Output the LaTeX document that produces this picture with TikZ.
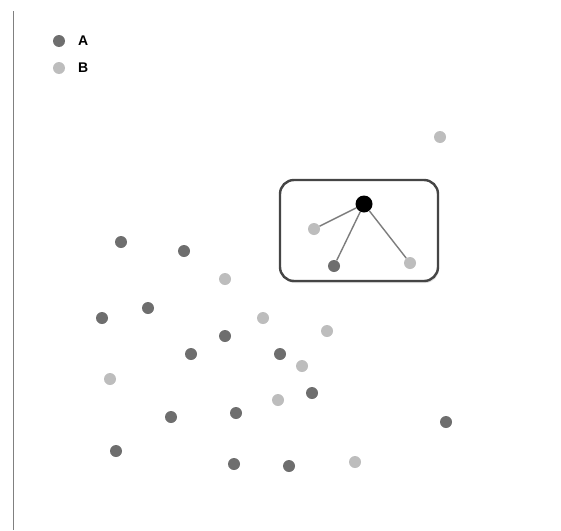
\documentclass[tikz,border=0pt]{standalone}
\usepackage{fontspec}
\setsansfont{Liberation Sans}
\usepackage{tikz}
\usetikzlibrary{shadows}
\definecolor{ptA}{HTML}{6E6E6E}
\definecolor{ptB}{HTML}{BDBDBD}
\definecolor{frameC}{HTML}{454545}

\begin{document}
\begin{tikzpicture}[
  x=1pt, y=-1pt,
  ptA/.style={circle, fill=ptA, inner sep=0pt, minimum size=12pt},
  ptB/.style={circle, fill=ptB, inner sep=0pt, minimum size=12pt},
  query/.style={circle, fill=black, inner sep=0pt, minimum size=17pt},
  legend/.style={font=\sffamily\bfseries\fontsize{14}{16}\selectfont, anchor=west, inner sep=0pt},
  link/.style={draw=ptA!90, line width=1.4pt}
]
  \useasboundingbox (0,0) rectangle (561,530);

  % Axis
  \coordinate (axtop) at (13.5,11);
  \coordinate (axbot) at (13.5,530);
  \draw[line width=1.8pt, gray] (axtop) -- (axbot);

  % Legend
  \node[ptA] (legA) at (59,41) {};
  \node[legend] (legAt) at (78,41) {A};
  \node[ptB] (legB) at (59,68) {};
  \node[legend] (legBt) at (78,68) {B};

  % Neighbourhood box
  \node[draw=frameC, line width=2.4pt, rounded corners=14pt, fill=white,
    drop shadow={opacity=0.25, shadow xshift=1pt, shadow yshift=-2pt},
    minimum width=158pt, minimum height=101pt] (nbox) at (359,230.5) {};

  % Points of class A
  \node[ptA] (a1) at (121,242) {};
  \node[ptA] (a2) at (184,251) {};
  \node[ptA] (a3) at (102,318) {};
  \node[ptA] (a4) at (148,308) {};
  \node[ptA] (a5) at (225,336) {};
  \node[ptA] (a6) at (191,354) {};
  \node[ptA] (a7) at (280,354) {};
  \node[ptA] (a8) at (312,393) {};
  \node[ptA] (a9) at (171,417) {};
  \node[ptA] (a10) at (236,413) {};
  \node[ptA] (a11) at (116,451) {};
  \node[ptA] (a12) at (234,464) {};
  \node[ptA] (a13) at (289,466) {};
  \node[ptA] (a14) at (446,422) {};

  % Points of class B
  \node[ptB] (b1) at (440,137) {};
  \node[ptB] (b2) at (225,279) {};
  \node[ptB] (b3) at (263,318) {};
  \node[ptB] (b4) at (327,331) {};
  \node[ptB] (b5) at (302,366) {};
  \node[ptB] (b6) at (110,379) {};
  \node[ptB] (b7) at (278,400) {};
  \node[ptB] (b8) at (355,462) {};

  % Query and its neighbours
  \node[query] (q) at (364,204) {};
  \node[ptB] (n1) at (314,229) {};
  \node[ptA] (n2) at (334,266) {};
  \node[ptB] (n3) at (410,263) {};
  \draw[link] (q) -- (n1);
  \draw[link] (q) -- (n2);
  \draw[link] (q) -- (n3);
\end{tikzpicture}
\end{document}
